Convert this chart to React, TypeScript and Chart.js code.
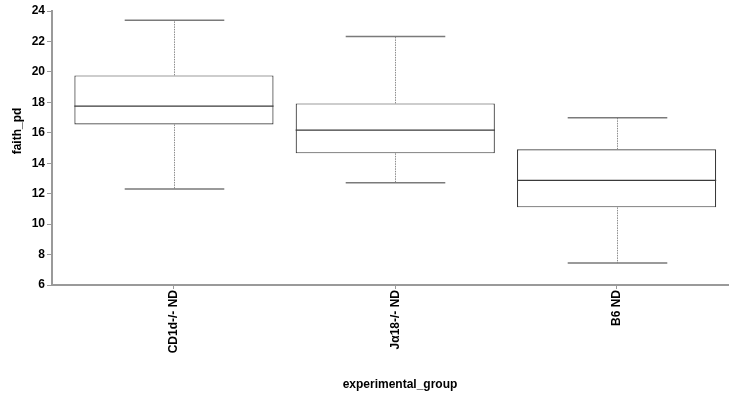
import { useEffect, useRef } from "react";
import { Chart, registerables } from "chart.js";

Chart.register(...registerables);

const categories = ["CD1d-/- ND", "Jα18-/- ND", "B6 ND"];
const whiskerLow = [12.3, 12.72, 7.44];
const q1 = [16.55, 14.65, 11.1];
const median = [17.75, 16.18, 12.87];
const q3 = [19.77, 17.93, 14.91];
const whiskerHigh = [23.4, 22.33, 16.99];
const yMin = 6;
const yMax = 24;
const yStep = 2;
const yTitle = "faith_pd";
const xTitle = "experimental_group";

const FONT = "'Liberation Sans', Arial, sans-serif";

const boxParts = {
  id: "boxParts",
  afterDatasetsDraw(chart: any) {
    const { ctx } = chart;
    const x = chart.scales.x;
    const y = chart.scales.y;
    ctx.save();
    categories.forEach((_, i) => {
      const cx = Math.round(x.getPixelForValue(i + 1)) + 0.5;
      const capHalf = x.getPixelForValue(i + 1 + 0.225) - x.getPixelForValue(i + 1);
      const yq1 = y.getPixelForValue(q1[i]);
      const yq3 = y.getPixelForValue(q3[i]);
      const ylo = y.getPixelForValue(whiskerLow[i]);
      const yhi = y.getPixelForValue(whiskerHigh[i]);
      const ymed = y.getPixelForValue(median[i]);
      // whiskers
      ctx.strokeStyle = "#8c8c8c";
      ctx.lineWidth = 1;
      ctx.setLineDash([1.5, 1]);
      ctx.beginPath();
      ctx.moveTo(cx, yq3);
      ctx.lineTo(cx, yhi);
      ctx.moveTo(cx, yq1);
      ctx.lineTo(cx, ylo);
      ctx.stroke();
      ctx.setLineDash([]);
      // caps
      ctx.strokeStyle = "#7a7a7a";
      ctx.lineWidth = 1.5;
      ctx.beginPath();
      ctx.moveTo(cx - capHalf, yhi);
      ctx.lineTo(cx + capHalf, yhi);
      ctx.moveTo(cx - capHalf, ylo);
      ctx.lineTo(cx + capHalf, ylo);
      ctx.stroke();
      // median
      const bx = chart.getDatasetMeta(0).data[i];
      const halfW = bx.width / 2;
      ctx.strokeStyle = "#3a3a3a";
      ctx.lineWidth = 1.2;
      ctx.beginPath();
      ctx.moveTo(bx.x - halfW, ymed);
      ctx.lineTo(bx.x + halfW, ymed);
      ctx.stroke();
    });
    ctx.restore();
  },
  afterDraw(chart: any) {
    const { ctx } = chart;
    ctx.save();
    ctx.fillStyle = "#000";
    ctx.font = `bold 12px ${FONT}`;
    ctx.textAlign = "center";
    ctx.textBaseline = "middle";
    ctx.fillText(xTitle, 400, 385);
    ctx.translate(18, 131);
    ctx.rotate(-Math.PI / 2);
    ctx.fillText(yTitle, 0, 0);
    ctx.restore();
  },
};

export default function App() {
  const ref = useRef<HTMLCanvasElement | null>(null);
  useEffect(() => {
    document.body.style.margin = "0";
    if (!ref.current) return;
    const chart = new Chart(ref.current, {
      type: "bar",
      data: {
        datasets: [
          {
            data: categories.map((_, i) => ({ x: i + 1, y: [q1[i], q3[i]] })) as any,
            backgroundColor: "#ffffff",
            borderColor: "#3a3a3a",
            borderWidth: 1.2,
            borderSkipped: false,
            categoryPercentage: 1,
            barPercentage: 0.9,
          },
        ],
      },
      plugins: [boxParts],
      options: {
        animation: false,
        responsive: false,
        devicePixelRatio: 1,
        events: [],
        layout: { padding: { top: 11, right: 0, left: 0, bottom: 0 } },
        plugins: { legend: { display: false }, tooltip: { enabled: false } },
        scales: {
          x: {
            type: "linear",
            offset: false,
            min: 0.449,
            max: 3.508,
            afterFit(scale: any) {
              scale.height = 110;
            },
            afterBuildTicks(scale: any) {
              scale.ticks = categories.map((_, i) => ({ value: i + 1 }));
            },
            ticks: {
              autoSkip: false,
              maxRotation: 90,
              minRotation: 90,
              padding: 1,
              color: "#000",
              font: { family: FONT, size: 12, weight: "bold" },
              callback: (v: any) => categories[Number(v) - 1] ?? "",
            },
            grid: { offset: false, drawOnChartArea: false, drawTicks: true, tickLength: 4, color: "#999", lineWidth: 1 },
            border: { display: true, color: "#9a9a9a", width: 2 },
          },
          y: {
            type: "linear",
            min: yMin,
            max: yMax,
            afterFit(scale: any) {
              scale.width = 52;
            },
            ticks: {
              stepSize: yStep,
              padding: 2,
              color: "#000",
              font: { family: FONT, size: 12, weight: "bold" },
            },
            grid: { drawOnChartArea: false, drawTicks: true, tickLength: 5, color: "#999", lineWidth: 1 },
            border: { display: true, color: "#9a9a9a", width: 2 },
          },
        },
      } as any,
    });
    return () => chart.destroy();
  }, []);
  return (
    <div style={{ width: 729, height: 395 }}>
      <canvas ref={ref} width={729} height={395} style={{ display: "block" }} />
    </div>
  );
}
